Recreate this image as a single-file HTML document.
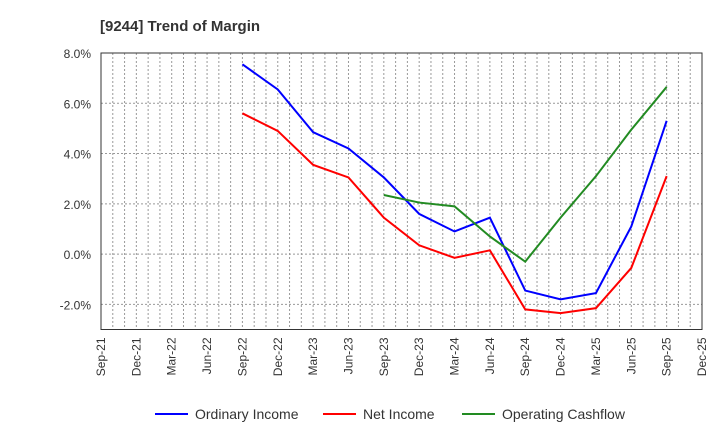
<!DOCTYPE html>
<html><head><meta charset="utf-8"><style>
body{margin:0;background:#fff;font-family:"Liberation Sans",sans-serif;}
svg text{font-family:"Liberation Sans",sans-serif;}
</style></head><body>
<svg width="720" height="440" id="c">
<text x="100" y="31" font-size="15" font-weight="bold" fill="#333">[9244]  Trend of Margin</text>
<g id="grid"></g><g id="axes"></g><g id="series"></g>
<g font-size="14" fill="#333">
<line x1="155" y1="414" x2="188" y2="414" stroke="#0000ff" stroke-width="2"/><text x="195" y="419">Ordinary Income</text>
<line x1="323" y1="414" x2="356" y2="414" stroke="#ff0000" stroke-width="2"/><text x="363" y="419">Net Income</text>
<line x1="462" y1="414" x2="495" y2="414" stroke="#228b22" stroke-width="2"/><text x="502" y="419">Operating Cashflow</text>
</g>
</svg>
<script>
const xLabels=["Sep-21","Dec-21","Mar-22","Jun-22","Sep-22","Dec-22","Mar-23","Jun-23","Sep-23","Dec-23","Mar-24","Jun-24","Sep-24","Dec-24","Mar-25","Jun-25","Sep-25","Dec-25"];
const yTicks=[8,6,4,2,0,-2];
const ordinary=[null,null,null,null,7.55,6.55,4.85,4.2,3.05,1.6,0.9,1.45,-1.45,-1.8,-1.55,1.1,5.3];
const net=[null,null,null,null,5.6,4.9,3.55,3.05,1.45,0.35,-0.15,0.15,-2.2,-2.35,-2.15,-0.55,3.1];
const cashflow=[null,null,null,null,null,null,null,null,2.35,2.05,1.9,0.7,-0.3,1.45,3.1,4.95,6.65];
const L=101,R=702,T=53,B=329.5,ymax=8,ymin=-3,months=51;
const xs=i=>L+i*3*(R-L)/months, xm=m=>L+m*(R-L)/months, ys=v=>T+(ymax-v)*(B-T)/(ymax-ymin);
const NS="http://www.w3.org/2000/svg";
function mk(t,a,p){const e=document.createElementNS(NS,t);for(const k in a)e.setAttribute(k,a[k]);p.appendChild(e);return e;}
const g=document.getElementById('grid'),ax=document.getElementById('axes'),s=document.getElementById('series');
for(let m=1;m<months;m++){const l=mk('line',{x1:xm(m),x2:xm(m),y1:T,y2:B,stroke:'#999','stroke-dasharray':'2,2'},g);
}
yTicks.forEach(v=>{const y=ys(v);const l=mk('line',{x1:L,x2:R,y1:y,y2:y,stroke:'#999','stroke-dasharray':'2,2'},g);

const t=mk('text',{x:L-10,y:y+5,'text-anchor':'end','font-size':12,fill:'#333'},ax);t.textContent=v.toFixed(1)+'%';
});
const fr=mk('rect',{x:L,y:T,width:R-L,height:B-T,fill:'none',stroke:'#333'},ax);

xLabels.forEach((lb,i)=>{const x=xs(i);const t=mk('text',{transform:`translate(${x+4},${B+8}) rotate(-90)`,'text-anchor':'end','font-size':12,fill:'#333'},ax);t.textContent=lb;
});
[[ordinary,'#0000ff','ordinary-income-line'],[net,'#ff0000','net-income-line'],[cashflow,'#228b22','operating-cashflow-line']].forEach(([d,c,n])=>{
const pts=d.map((v,i)=>v==null?null:xs(i)+','+ys(v)).filter(p=>p).join(' ');
const p=mk('polyline',{points:pts,fill:'none',stroke:c,'stroke-width':2},s);
});
</script>
</body></html>
